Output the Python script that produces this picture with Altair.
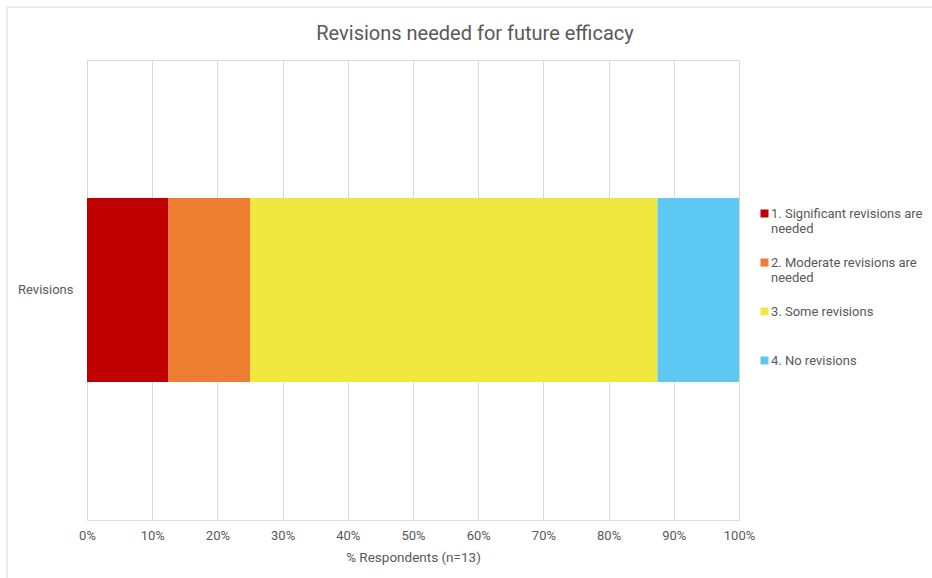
import altair as alt
import pandas as pd

# Share of respondents per revision level
categories = [
    "1. Significant revisions are\nneeded",
    "2. Moderate revisions are\nneeded",
    "3. Some revisions",
    "4. No revisions",
]
shares = [0.125, 0.125, 0.625, 0.125]
colors = ["#C00000", "#ED7D31", "#F0E83E", "#5DC8F2"]
question = "Revisions"

df = pd.DataFrame({
    "question": [question] * len(categories),
    "category": categories,
    "share": shares,
    "order": list(range(len(categories))),
})

FONT = "Roboto"
GREY = "#595959"
FRAME = "#e6e6e6"

bars = (
    alt.Chart(df)
    .mark_bar()
    .encode(
        y=alt.Y(
            "question:N",
            title=None,
            scale=alt.Scale(paddingInner=0.6, paddingOuter=0.3),
            axis=alt.Axis(ticks=False, domain=False, labelPadding=14,
                          labelFontSize=13, labelColor=GREY, labelFont=FONT),
        ),
        x=alt.X(
            "share:Q",
            stack="zero",
            title="% Respondents (n=13)",
            scale=alt.Scale(domain=[0, 1], nice=False),
            axis=alt.Axis(
                format=".0%", values=[i / 10 for i in range(11)],
                grid=True, gridColor="#d9d9d9", ticks=False, domain=False,
                labelFlush=False, labelBound=False,
                labelPadding=9, labelFontSize=13, labelColor=GREY, labelFont=FONT,
                titleFontSize=13.5, titleColor=GREY, titleFont=FONT,
                titleFontWeight="normal", titlePadding=8,
            ),
        ),
        color=alt.Color(
            "category:N",
            sort=categories,
            scale=alt.Scale(domain=categories, range=colors),
            legend=alt.Legend(
                title=None, orient="none", legendX=671, legendY=147,
                symbolType="square", symbolSize=64, symbolStrokeWidth=0,
                labelExpr="split(datum.label, '\\n')",
                labelFontSize=13, labelColor=GREY, labelFont=FONT,
                labelLimit=200, gridAlign="all", rowPadding=20,
                symbolOffset=0, labelOffset=0,
            ),
        ),
        order=alt.Order("order:Q"),
    )
)

# Thin outer frame around the chart card (left and top edges)
frame_src = pd.DataFrame({"edge": [0]})
frame_left = alt.Chart(frame_src).mark_rule(color=FRAME, strokeWidth=1.5).encode(
    x=alt.value(-80), y=alt.value(-53), y2=alt.value(520)
)
frame_top = alt.Chart(frame_src).mark_rule(color=FRAME, strokeWidth=1.5).encode(
    x=alt.value(-80), x2=alt.value(845), y=alt.value(-53)
)

chart = (
    alt.layer(frame_left, frame_top, bars)
    .properties(
        width=652,
        height=460,
        title=alt.TitleParams(
            "Revisions needed for future efficacy",
            fontSize=20, font=FONT, color=GREY, fontWeight="normal",
            anchor="middle", dx=62, offset=-38,
        ),
        autosize=alt.AutoSizeParams(type="none"),
        padding={"left": 87, "top": 60, "right": 193, "bottom": 58},
    )
    .configure_view(stroke=None)
    .configure(background="white")
)

chart.save("out.html", embed_options={"renderer": "svg", "actions": False})
